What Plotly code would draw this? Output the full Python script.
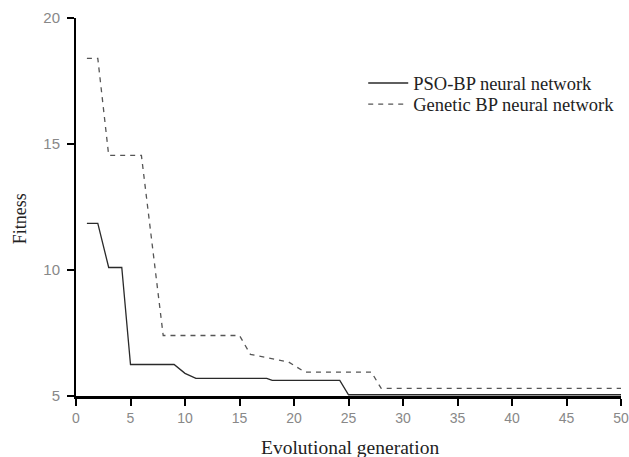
import plotly.graph_objects as go

# PSO-BP neural network
pso_x = [1, 2, 3, 4.2, 5, 9, 10, 11, 17.5, 18, 24.2, 25, 50]
pso_y = [11.85, 11.85, 10.1, 10.1, 6.25, 6.25, 5.9, 5.7, 5.7, 5.62, 5.62, 5.05, 5.05]

# Genetic BP neural network
ga_x = [1, 2, 3, 6, 8, 15, 16, 19.5, 21, 27.1, 28, 50]
ga_y = [18.4, 18.4, 14.55, 14.55, 7.4, 7.4, 6.65, 6.35, 5.95, 5.95, 5.3, 5.3]

x_ticks = [0, 5, 10, 15, 20, 25, 30, 35, 40, 45, 50]
y_ticks = [5, 10, 15, 20]

legend_font = dict(family="Liberation Serif", size=18.5, color="#222")

fig = go.Figure()
fig.add_trace(go.Scatter(x=pso_x, y=pso_y, mode="lines", name="PSO-BP neural network",
                         line=dict(color="#2a2a2a", width=1.3), legend="legend"))
fig.add_trace(go.Scatter(x=ga_x, y=ga_y, mode="lines", name="Genetic BP neural network",
                         line=dict(color="#555555", width=1.3, dash="5px,5px"),
                         legend="legend2"))

fig.update_layout(
    width=629, height=457,
    margin=dict(l=76, r=8, t=18, b=61),
    paper_bgcolor="white", plot_bgcolor="white",
    showlegend=True,
    legend=dict(x=0.527, y=0.877, xanchor="left", yanchor="top",
                font=legend_font, bgcolor="rgba(0,0,0,0)", itemwidth=40),
    legend2=dict(x=0.527, y=0.821, xanchor="left", yanchor="top",
                 font=legend_font, bgcolor="rgba(0,0,0,0)", itemwidth=40),
    xaxis=dict(range=[0, 50], tickvals=x_ticks, showgrid=False, zeroline=False,
               automargin=False,
               showline=True, linecolor="black", linewidth=2.5,
               ticks="outside", ticklen=7, tickwidth=2, tickcolor="black",
               tickfont=dict(family="Liberation Sans", size=14, color="#888")),
    yaxis=dict(range=[5, 20], tickvals=y_ticks, showgrid=False, zeroline=False,
               automargin=False,
               showline=True, linecolor="black", linewidth=2,
               ticks="outside", ticklen=7, tickwidth=2, tickcolor="black",
               ticklabelstandoff=4,
               tickfont=dict(family="Liberation Sans", size=15, color="#888")),
    annotations=[
        dict(text="Evolutional generation", xref="paper", yref="paper",
             x=0.503, y=-0.135, xanchor="center", yanchor="middle", showarrow=False,
             font=dict(family="Liberation Serif", size=19.5, color="#222")),
        dict(text="Fitness", xref="paper", yref="paper", textangle=-90,
             x=-0.103, y=0.47, xanchor="center", yanchor="middle", showarrow=False,
             font=dict(family="Liberation Serif", size=18, color="#222")),
    ],
)

fig.write_html("out.html", config={"displayModeBar": False},
               post_script="document.body.style.margin='0';")
